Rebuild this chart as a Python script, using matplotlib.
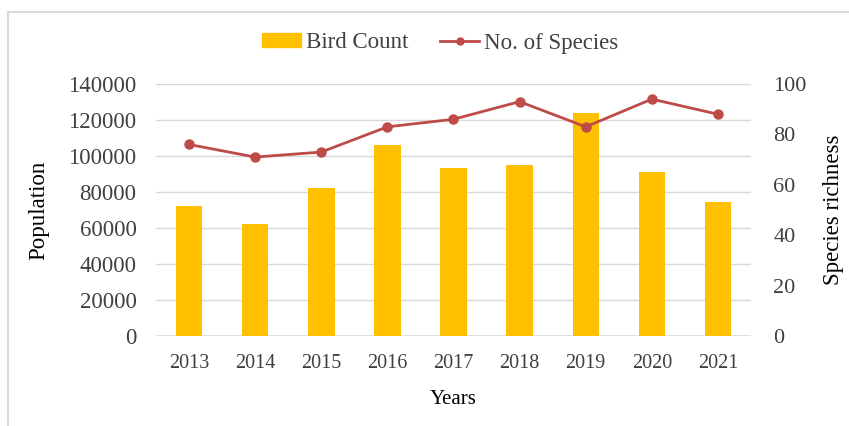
import matplotlib
matplotlib.use("Agg")
import matplotlib.pyplot as plt
from matplotlib.patches import Rectangle
from matplotlib.lines import Line2D
from matplotlib.patches import Patch

# yearly survey results
years = ["2013", "2014", "2015", "2016", "2017", "2018", "2019", "2020", "2021"]
bird_count = [72000, 62000, 82000, 106000, 93500, 95000, 124000, 91000, 74500]
species = [76, 71, 73, 83, 86, 93, 83, 94, 88]

bar_color = "#FFC000"
line_color = "#BE4B48"
text_color = "#404040"
grid_color = "#D9D9D9"

plt.rcParams["font.family"] = ["Liberation Serif", "DejaVu Serif"]
plt.rcParams["text.color"] = text_color

W, H = 849, 426
fig = plt.figure(figsize=(W / 100, H / 100), dpi=100)
ax = fig.add_axes([156 / W, (H - 336) / H, (751 - 156) / W, (336 - 84) / H])
ax2 = ax.twinx()

x = list(range(len(years)))
ax.bar(x, bird_count, width=0.4, color=bar_color, zorder=2)
ax2.plot(x, species, color=line_color, lw=2.0, marker="o", markersize=6.5,
         markerfacecolor=line_color, markeredgecolor=line_color, zorder=3)

ax.set_xlim(-0.5, len(years) - 0.5)
ax.set_ylim(0, 140000)
ax.set_yticks(range(0, 140001, 20000))
ax2.set_ylim(0, 100)
ax2.set_yticks(range(0, 101, 20))

ax.set_xticks(x)
ax.set_xticklabels(years)
ax.yaxis.grid(True, color=grid_color, lw=1)
ax.set_axisbelow(True)

for a in (ax, ax2):
    for s in a.spines.values():
        s.set_visible(False)
    a.tick_params(length=0, colors=text_color)
ax.tick_params(axis="y", labelsize=16.5, pad=14)
ax.tick_params(axis="x", labelsize=14.5, pad=13)
ax2.tick_params(axis="y", labelsize=16, pad=16)
ax.axhline(0, color=grid_color, lw=1.2, zorder=1)

ax.set_xlabel("Years", fontsize=15, labelpad=12)
ax.set_ylabel("Population", fontsize=16.5, labelpad=14)
ax2.set_ylabel("Species richness", fontsize=16.5, labelpad=12)

handles = [Patch(color=bar_color, label="Bird Count"),
           Line2D([], [], color=line_color, lw=2.0, marker="o", markersize=5,
                  label="No. of Species")]
fig.legend(handles=handles, loc="center", bbox_to_anchor=(440 / W, 1 - 43 / H),
           ncol=2, frameon=False, fontsize=16.5, handlelength=1.7,
           handletextpad=0.2, columnspacing=1.4, handleheight=0.55)

# light frame around the chart area
fig.patches.append(Rectangle((8 / W, -0.1), 1.2, 1.1 - 12 / H, transform=fig.transFigure,
                             fill=False, edgecolor="#D9D9D9", lw=1.5))

fig.savefig("out.png", dpi=100)
